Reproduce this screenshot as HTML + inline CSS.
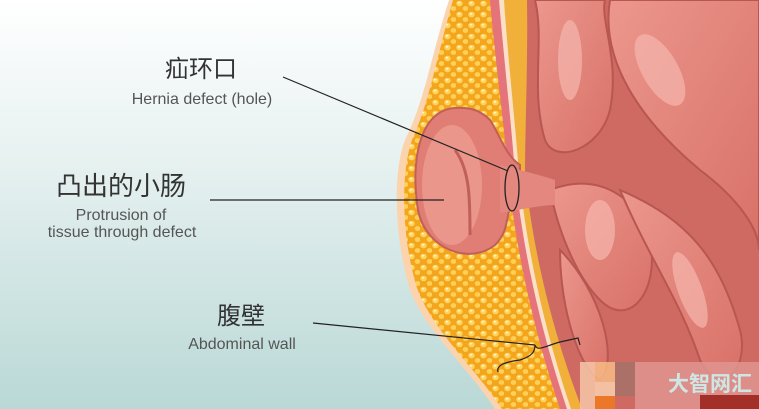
<!DOCTYPE html>
<html><head><meta charset="utf-8"><style>
html,body{margin:0;padding:0;width:759px;height:409px;overflow:hidden}
svg{display:block}
.cn{font-family:"Liberation Sans","Noto Sans CJK SC",sans-serif;fill:#333}
.en{font-family:"Liberation Sans","Noto Sans CJK SC",sans-serif;fill:#555;font-size:16px}
</style></head><body>
<svg width="759" height="409" viewBox="0 0 759 409" xmlns="http://www.w3.org/2000/svg">
<defs>
<linearGradient id="bg" x1="0" y1="0" x2="0" y2="1">
<stop offset="0" stop-color="#ffffff"/><stop offset="0.4" stop-color="#e6f1f0"/><stop offset="1" stop-color="#b9d8d6"/></linearGradient>
<pattern id="fat" width="12" height="11" patternUnits="userSpaceOnUse">
<rect width="12" height="11" fill="#f3a51e"/>
<ellipse cx="3.5" cy="3.5" rx="3.2" ry="2.8" fill="#ffd45c"/>
<ellipse cx="9.5" cy="8.5" rx="2.8" ry="2.4" fill="#ffd055"/>
<ellipse cx="3" cy="2.8" rx="1.4" ry="0.9" fill="#fff4c8"/>
</pattern>
<linearGradient id="gut" x1="0" y1="0" x2="1" y2="1">
<stop offset="0" stop-color="#ec978d"/><stop offset="1" stop-color="#d87168"/></linearGradient>
</defs>
<rect width="759" height="409" fill="url(#bg)"/>
<path d="M449 0 C430 60 425 100 405 140 C392 175 395 240 410 290 C425 330 470 370 495 409 L759 409 L759 0Z" fill="#fbd3ad"/>
<path d="M453 0 C436 60 430 100 412 140 C400 175 402 240 417 288 C432 330 477 370 502 409 L759 409 L759 0Z" fill="url(#fat)"/>
<path d="M490 0 C495 60 505 130 508 175 C515 240 530 320 560 409 L759 409 L759 0Z" fill="#e5737a"/>
<path d="M499 0 C504 60 512 130 515 175 C522 240 537 320 567 409 L759 409 L759 0Z" fill="#fae0c8"/>
<path d="M504 0 C508 60 516 130 519 175 C526 240 541 320 571 409 L759 409 L759 0Z" fill="#f1b03a"/>
<path d="M527 0 C528 60 525 130 525 175 C532 240 548 320 582 409 L759 409 L759 0Z" fill="#cf6a62"/>
<g fill="url(#gut)" stroke="#b85651" stroke-width="2">
<path d="M535 0 C545 40 530 90 545 140 C555 165 600 150 610 110 C620 60 600 20 605 0Z"/>
<path d="M610 0 C600 60 640 120 700 170 C740 200 759 230 759 250 L759 0Z"/>
<path d="M550 190 C600 170 640 200 650 240 C660 290 630 330 600 300 C580 280 560 240 550 190Z"/>
<path d="M620 190 C690 220 720 260 740 330 C750 370 720 400 700 360 C680 300 650 260 620 190Z"/>
<path d="M560 250 C600 290 620 360 600 380 C580 370 560 310 560 250Z"/>
</g>
<g fill="#f6b7ae" opacity="0.7">
<ellipse cx="570" cy="60" rx="12" ry="40"/>
<ellipse cx="660" cy="70" rx="18" ry="40" transform="rotate(-30 660 70)"/>
<ellipse cx="600" cy="230" rx="15" ry="30"/>
<ellipse cx="690" cy="290" rx="12" ry="40" transform="rotate(-20 690 290)"/>
</g>
<path d="M455 108 C420 110 410 160 418 210 C426 250 470 265 495 245 C510 230 505 215 512 205 L520 195 L520 165 C505 155 500 135 490 120 C480 110 470 107 455 108Z" fill="#e07d74" stroke="#c0605a" stroke-width="2"/>
<ellipse cx="452" cy="185" rx="30" ry="60" fill="#ea968b"/>
<path d="M455 150 C470 170 470 200 470 235" stroke="#c0605a" stroke-width="3" fill="none"/>
<path d="M500 165 C520 170 540 175 555 180 L555 205 C540 205 520 210 500 213Z" fill="#e4877e"/>
<ellipse cx="512" cy="188" rx="7" ry="23" fill="none" stroke="#222" stroke-width="1.3"/>
<g stroke="#222" stroke-width="1.2" fill="none">
<line x1="283" y1="77" x2="508" y2="171"/>
<line x1="210" y1="200" x2="444" y2="200"/>
<line x1="313" y1="323" x2="535" y2="345"/>
<path d="M498 372 C496 365 505 362 520 360 C532 356 535 352 535 345 C537 352 545 346 560 342 L578 338 L580 345"/>
</g>
<text class="cn" x="201" y="77" font-size="24" text-anchor="middle">疝环口</text>
<text class="en" x="202" y="104" text-anchor="middle">Hernia defect (hole)</text>
<text class="cn" x="121" y="195" font-size="26" text-anchor="middle">凸出的小肠</text>
<text class="en" x="121" y="220" text-anchor="middle">Protrusion of</text>
<text class="en" x="122" y="237" text-anchor="middle">tissue through defect</text>
<text class="cn" x="241" y="324" font-size="24" text-anchor="middle">腹壁</text>
<text class="en" x="242" y="349" text-anchor="middle">Abdominal wall</text>
<g opacity="0.85">
<rect x="580" y="362" width="20" height="47" fill="#f6c7a8"/>
<rect x="595" y="362" width="20" height="20" fill="#f8bc85"/>
<rect x="595" y="382" width="20" height="14" fill="#fbd0b0"/>
<rect x="595" y="396" width="20" height="13" fill="#f07a20"/>
<rect x="615" y="362" width="20" height="34" fill="#a57269"/>
<rect x="635" y="362" width="124" height="47" fill="#e09590"/>
<rect x="700" y="395" width="59" height="14" fill="#9b2620"/>
</g>
<text x="668" y="391" font-size="21" font-weight="bold" fill="#cde7e5" font-family="'Liberation Sans','Noto Sans CJK SC',sans-serif">大智网汇</text>
</svg>
</body></html>
